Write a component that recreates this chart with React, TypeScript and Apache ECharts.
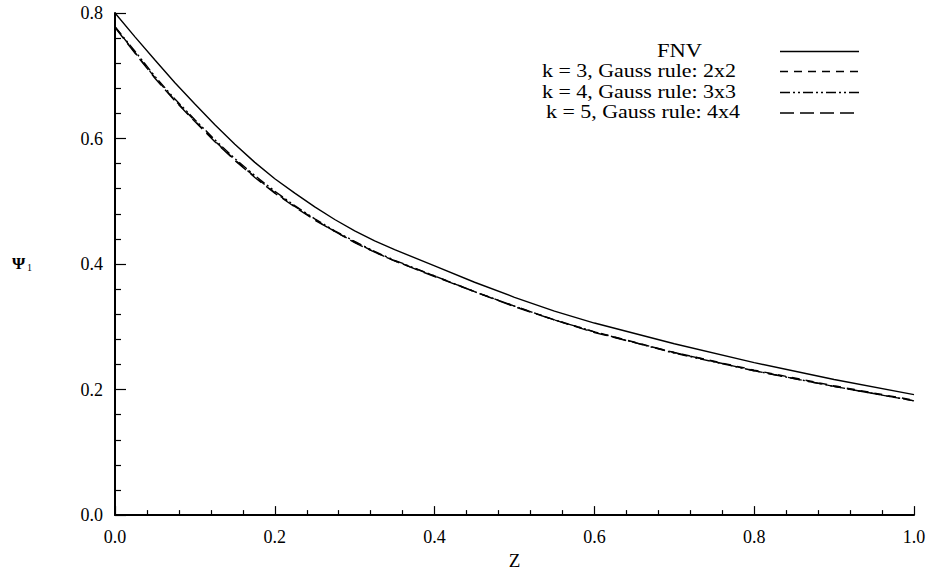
import React, { useEffect, useRef } from "react";
import * as echarts from "echarts";

const zValues = [0, 0.025, 0.05, 0.075, 0.1, 0.125, 0.15, 0.175, 0.2, 0.225, 0.25, 0.275, 0.3, 0.325, 0.35, 0.4, 0.45, 0.5, 0.55, 0.6, 0.7, 0.8, 0.9, 1.0];
const fnv = [0.800, 0.762, 0.725, 0.689, 0.655, 0.622, 0.591, 0.562, 0.536, 0.513, 0.491, 0.471, 0.453, 0.437, 0.423, 0.397, 0.371, 0.347, 0.325, 0.306, 0.273, 0.243, 0.216, 0.192];
const k3 = [0.778, 0.737, 0.697, 0.661, 0.628, 0.596, 0.566, 0.539, 0.514, 0.492, 0.471, 0.452, 0.435, 0.419, 0.405, 0.381, 0.356, 0.333, 0.311, 0.292, 0.259, 0.231, 0.206, 0.183];
const k4 = [0.778, 0.739, 0.699, 0.663, 0.630, 0.598, 0.568, 0.541, 0.516, 0.493, 0.472, 0.453, 0.436, 0.420, 0.406, 0.381, 0.356, 0.333, 0.311, 0.292, 0.258, 0.230, 0.205, 0.182];
const k5 = [0.777, 0.736, 0.696, 0.660, 0.627, 0.595, 0.565, 0.538, 0.513, 0.491, 0.470, 0.452, 0.434, 0.419, 0.405, 0.380, 0.356, 0.332, 0.311, 0.291, 0.259, 0.230, 0.205, 0.182];

const seriesNames = ["FNV", "k = 3, Gauss rule: 2x2", "k = 4, Gauss rule: 3x3", "k = 5, Gauss rule: 4x4"];
const xTicks = [0, 0.2, 0.4, 0.6, 0.8, 1.0];
const yTicks = [0, 0.2, 0.4, 0.6, 0.8];

const FONT = "Liberation Serif";

const dashes: (number[] | "solid")[] = ["solid", [8, 6], [10, 3, 2, 3, 2, 3], [14, 6]];

export default function App() {
  const ref = useRef<HTMLDivElement>(null);
  useEffect(() => {
    if (!ref.current) return;
    const chart = echarts.init(ref.current, null, { renderer: "svg" });
    const data = [fnv, k3, k4, k5];
    const legendY = [51.5, 71.5, 92.5, 113];
    const textLeft = [657, 542, 542, 546];
    const graphics: any[] = [];
    seriesNames.forEach((n, i) => {
      graphics.push({
        type: "text",
        x: textLeft[i],
        y: legendY[i] - 1,
        scaleX: i === 0 ? 1.25 : 1.22,
        style: {
          text: n,
          fontFamily: FONT,
          fontSize: 18,
          fill: "#000",
          verticalAlign: "middle",
          align: "left",
        },
      });
      graphics.push({
        type: "line",
        shape: { x1: 780, y1: legendY[i], x2: 859, y2: legendY[i] },
        style: {
          stroke: "#000",
          lineWidth: 1.4,
          lineDash: dashes[i] === "solid" ? null : dashes[i],
        },
      });
    });
    graphics.push({
      type: "text",
      x: 12,
      y: 263,
      style: {
        text: "Ψ",
        fontFamily: FONT,
        fontSize: 17,
        fontWeight: "bold",
        fill: "#000",
        verticalAlign: "middle",
        align: "left",
      },
    });
    graphics.push({
      type: "text",
      x: 27,
      y: 267,
      style: {
        text: "1",
        fontFamily: FONT,
        fontSize: 10,
        fill: "#000",
        verticalAlign: "middle",
        align: "left",
      },
    });

    chart.setOption({
      animation: false,
      grid: { left: 115, right: 17, top: 13, bottom: 56, containLabel: false },
      xAxis: {
        type: "value",
        min: xTicks[0],
        max: xTicks[xTicks.length - 1],
        interval: 0.2,
        name: "Z",
        nameLocation: "middle",
        nameGap: 31,
        nameTextStyle: { fontFamily: FONT, fontSize: 19, color: "#000" },
        axisLine: { show: true, onZero: false, lineStyle: { color: "#000", width: 2 } },
        axisTick: { show: true, inside: true, length: 9, lineStyle: { color: "#000", width: 1.2 } },
        minorTick: { show: true, splitNumber: 5, length: 5, lineStyle: { color: "#000", width: 1.2 } },
        splitLine: { show: false },
        axisLabel: {
          fontFamily: FONT,
          fontSize: 18,
          color: "#000",
          margin: 13,
          formatter: (v: number) => v.toFixed(1),
        },
      },
      yAxis: {
        type: "value",
        min: yTicks[0],
        max: yTicks[yTicks.length - 1],
        interval: 0.2,
        axisLine: { show: true, onZero: false, lineStyle: { color: "#000", width: 2 } },
        axisTick: { show: true, inside: true, length: 11, lineStyle: { color: "#000", width: 1.2 } },
        minorTick: { show: true, splitNumber: 5, length: 6, lineStyle: { color: "#000", width: 1.2 } },
        splitLine: { show: false },
        axisLabel: {
          fontFamily: FONT,
          fontSize: 18,
          color: "#000",
          margin: 12,
          formatter: (v: number) => v.toFixed(1),
        },
      },
      graphic: graphics,
      series: data.map((d, i) => ({
        name: seriesNames[i],
        type: "line",
        data: zValues.map((z, j) => [z, d[j]]),
        showSymbol: false,
        smooth: false,
        lineStyle: {
          color: "#000",
          width: 1.4,
          type: dashes[i] === "solid" ? "solid" : dashes[i],
        },
        z: 4 - i,
      })),
    });
    return () => chart.dispose();
  }, []);
  return (
    <div
      ref={ref}
      style={{ position: "fixed", left: 0, top: 0, width: 931, height: 575, background: "#fff" }}
    />
  );
}
